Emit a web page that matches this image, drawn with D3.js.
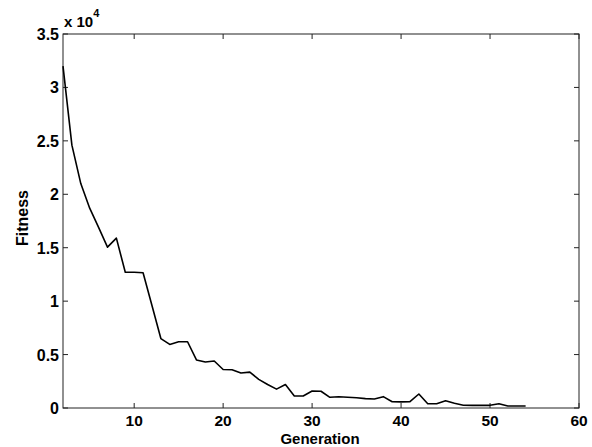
<!DOCTYPE html>
<html><head><meta charset="utf-8">
<script src="https://cdn.jsdelivr.net/npm/d3@7"></script>
<style>body{margin:0;background:#fff}svg{display:block}text{font-family:Arial,"Liberation Sans",sans-serif;font-weight:bold;fill:#000}</style>
</head><body>
<svg id="c" width="592" height="447"></svg>
<script>
const generations = d3.range(2, 55);
const fitness = [32000,24600,21000,18700,16900,15050,15900,12700,12700,12650,9600,6500,5950,6200,6200,4500,4300,4400,3600,3580,3270,3360,2680,2200,1770,2200,1130,1130,1590,1570,1000,1050,1010,960,880,840,1060,590,570,590,1310,400,400,680,440,260,250,250,250,400,190,190,190];
const xTicks = [10,20,30,40,50,60];
const yTicks = [0,5000,10000,15000,20000,25000,30000,35000];
const yTickLabels = ["0","0.5","1","1.5","2","2.5","3","3.5"];

const svg = d3.select("#c");
const L=63,R=579,T=34,B=408;
const x = d3.scaleLinear().domain([2,60]).range([L,R]);
const y = d3.scaleLinear().domain([0,35000]).range([B,T]);
const data = generations.map((g,i)=>({g,v:fitness[i]}));

svg.append("rect").attr("x",L).attr("y",T).attr("width",R-L).attr("height",B-T).attr("fill","#fff");

const tl = 5;
const g = svg.append("g").attr("stroke","#222").attr("stroke-width",1);
xTicks.forEach(t=>{
  g.append("line").attr("x1",x(t)).attr("x2",x(t)).attr("y1",B).attr("y2",B-tl);
  g.append("line").attr("x1",x(t)).attr("x2",x(t)).attr("y1",T).attr("y2",T+tl);
});
yTicks.forEach(t=>{
  g.append("line").attr("x1",L).attr("x2",L+tl).attr("y1",y(t)).attr("y2",y(t));
  g.append("line").attr("x1",R).attr("x2",R-tl).attr("y1",y(t)).attr("y2",y(t));
});
svg.append("rect").attr("x",L).attr("y",T).attr("width",R-L).attr("height",B-T).attr("fill","none").attr("stroke","#222").attr("stroke-width",1);

svg.append("path").datum(data)
  .attr("d", d3.line().x(d=>x(d.g)).y(d=>y(d.v)))
  .attr("fill","none").attr("stroke","#000").attr("stroke-width",1.6).attr("stroke-linejoin","round");

xTicks.forEach(t=>{
  svg.append("text").attr("x",x(t)).attr("y",425.5).attr("text-anchor","middle").attr("font-size",15.5).text(t);
});
yTicks.forEach((t,i)=>{
  svg.append("text").attr("x",59).attr("y",y(t)+6).attr("text-anchor","end").attr("font-size",16).text(yTickLabels[i]);
});
const ex = svg.append("text").attr("x",64).attr("y",27).attr("font-size",15);
ex.append("tspan").text("x 10");
ex.append("tspan").attr("font-size",11).attr("dy",-10).text("4");

svg.append("text").attr("x",320).attr("y",443.5).attr("text-anchor","middle").attr("font-size",15).text("Generation");
svg.append("text").attr("transform","translate(28,218) rotate(-90)").attr("text-anchor","middle").attr("font-size",16).text("Fitness");
</script>
</body></html>
